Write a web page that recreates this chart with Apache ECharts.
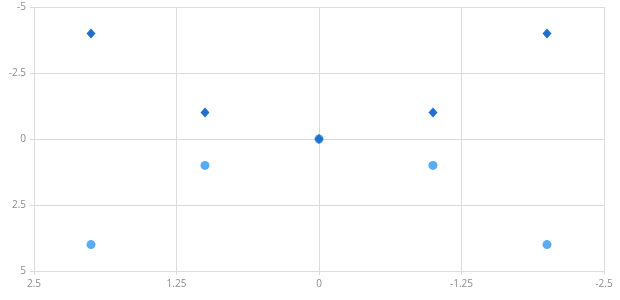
<!DOCTYPE html>
<html><head><meta charset="utf-8">
<script src="https://cdn.jsdelivr.net/npm/echarts@6/dist/echarts.min.js"></script>
<style>html,body{margin:0;padding:0;background:#fff}#c{width:620px;height:300px}</style>
</head><body><div id="c"></div>
<script>
var xValues = [2, 1, 0, -1, -2];
var diamondY = [-4, -1, 0, -1, -4];
var circleY = [4, 1, 0, 1, 4];
var xTicks = [2.5, 1.25, 0, -1.25, -2.5];
var yTicks = [-5, -2.5, 0, 2.5, 5];

function pairs(xs, ys){ return xs.map(function(x,i){ return [x, ys[i]]; }); }

var chart = echarts.init(document.getElementById('c'));
var lbl = {color:'#8c8c8c', fontSize:10, fontFamily:'Open Sans'};
var lineStyle = {color:'#dcdcdc', width:1};
chart.setOption({
  animation:false,
  grid:{left:34, right:16, top:7, bottom:29, containLabel:false},
  xAxis:{type:'value', inverse:true, min:-2.5, max:2.5, interval:1.25,
    axisLine:{show:true, onZero:false, lineStyle:lineStyle},
    axisTick:{show:true, length:4, lineStyle:lineStyle},
    splitLine:{show:true, lineStyle:lineStyle},
    axisLabel:Object.assign({margin:8, formatter:function(v){return String(v);}}, lbl)},
  yAxis:{type:'value', inverse:true, min:-5, max:5, interval:2.5,
    axisLine:{show:true, onZero:false, lineStyle:lineStyle},
    axisTick:{show:true, length:4, lineStyle:lineStyle},
    splitLine:{show:true, lineStyle:lineStyle},
    axisLabel:Object.assign({margin:8, formatter:function(v){return String(v);}}, lbl)},
  series:[
    {type:'scatter', data:pairs(xValues, circleY), symbol:'circle', symbolSize:9,
      itemStyle:{color:'#5aacf2', opacity:1}},
    {type:'scatter', data:pairs(xValues, diamondY), symbol:'diamond', symbolSize:[9,10],
      itemStyle:{color:'#1e6fd0', opacity:1}}
  ]
});
</script></body></html>
